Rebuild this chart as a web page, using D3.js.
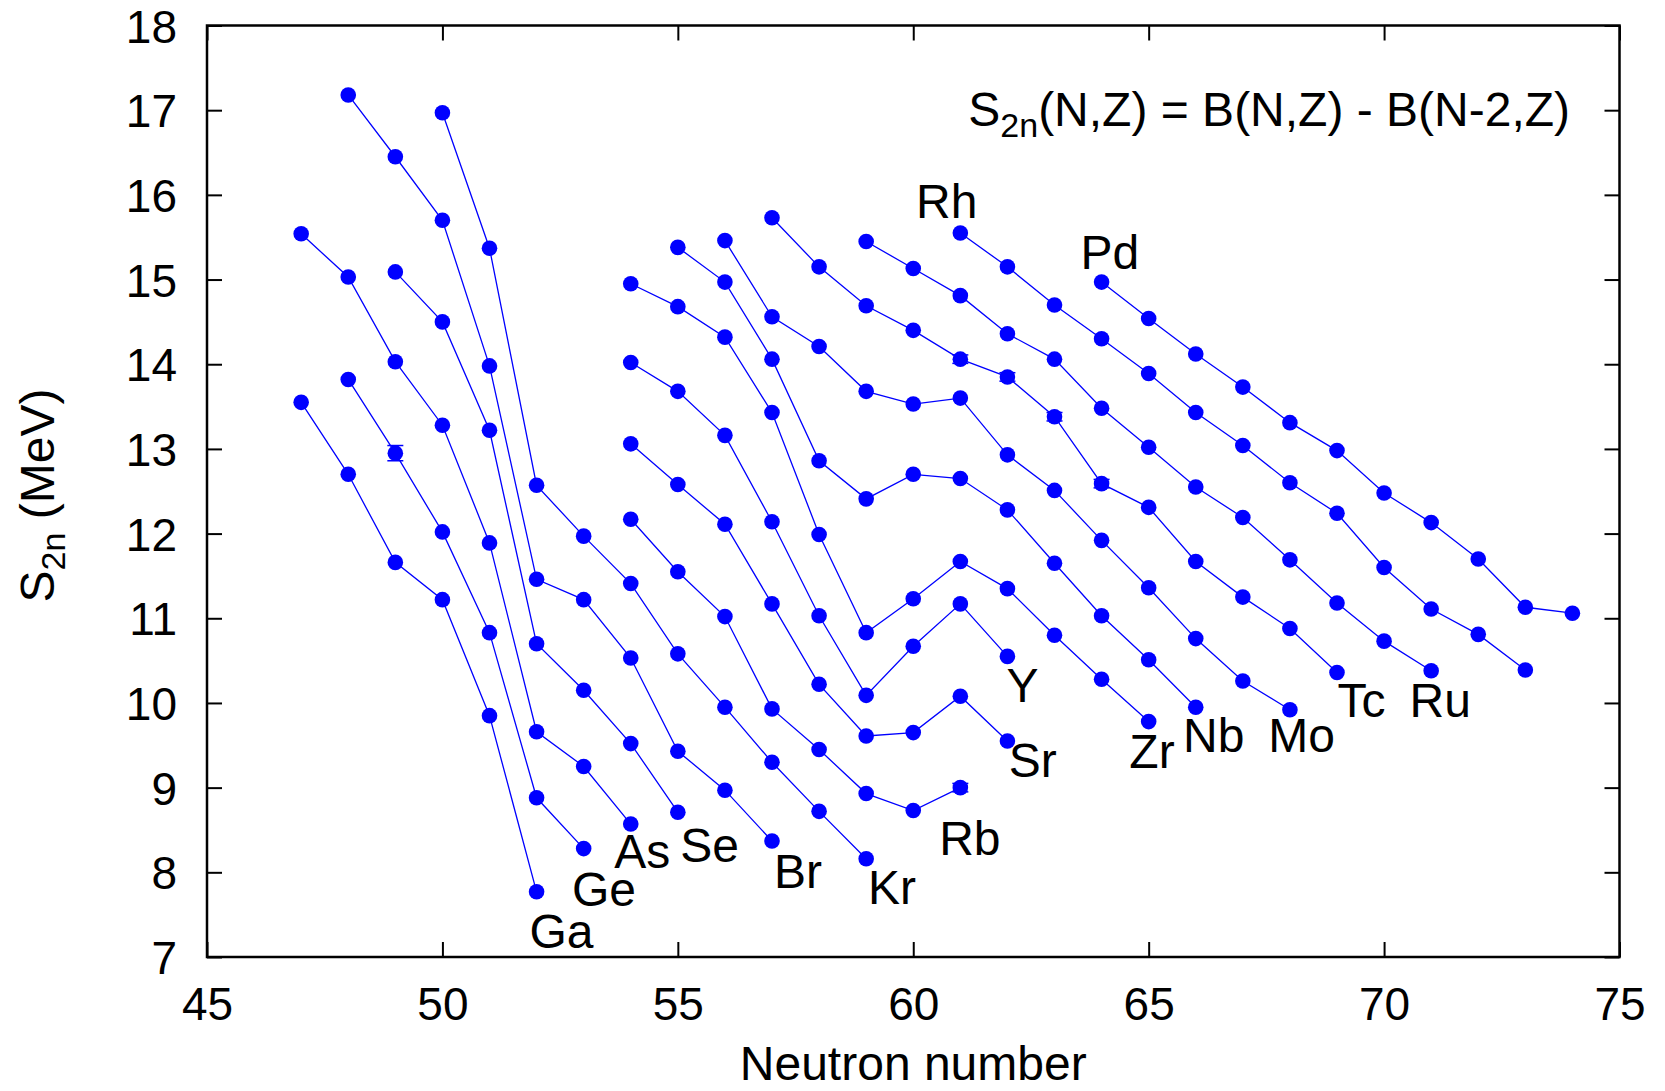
<!DOCTYPE html>
<html lang="en">
<head>
  <meta charset="UTF-8">
  <title>S2n vs neutron number</title>
  <script src="https://d3js.org/d3.v7.min.js"></script>
  <style>
    body, html {
      margin: 0;
      background-color: #ffffff;
    }
    svg text {
      font-family: 'Liberation Sans', Arial, sans-serif;
      fill: #000;
    }
  </style>
</head>
<body>
<svg id="chart" width="1665" height="1091"></svg>

<script>
  // element names, first neutron number of each chain, and S2n values (MeV)
  const elementNames = ["Ga", "Ge", "As", "Se", "Br", "Kr", "Rb", "Sr", "Y", "Zr", "Nb", "Mo", "Tc", "Ru", "Rh", "Pd"];
  const firstN = [47, 48, 47, 49, 48, 50, 54, 54, 54, 54, 55, 56, 57, 59, 61, 64];

  const s2nGa = [13.55, 12.70, 11.66, 11.22, 9.85, 7.77];
  const s2nGe = [13.82, 12.95, 12.02, 10.83, 8.88, 8.28];
  const s2nAs = [15.54, 15.03, 14.03, 13.28, 11.89, 9.66, 9.25, 8.57];
  const s2nSe = [15.09, 14.50, 13.22, 10.70, 10.15, 9.52, 8.71];
  const s2nBr = [17.18, 16.45, 15.70, 13.98, 11.46, 11.22, 10.53, 9.43, 8.97, 8.37];
  const s2nKr = [16.97, 15.37, 12.57, 11.97, 11.41, 10.58, 9.95, 9.30, 8.72, 8.16];
  const s2nRb = [12.17, 11.55, 11.02, 9.93, 9.45, 8.93, 8.73, 9.00];
  const s2nSr = [13.06, 12.58, 12.11, 11.17, 10.22, 9.61, 9.65, 10.08, 9.55];
  const s2nY  = [14.02, 13.68, 13.16, 12.14, 11.03, 10.09, 10.67, 11.17, 10.55];
  const s2nZr = [14.95, 14.68, 14.32, 13.43, 11.99, 10.83, 11.23, 11.67, 11.35, 10.80, 10.28, 9.78];
  const s2nNb = [15.38, 14.97, 14.06, 12.86, 12.41, 12.70, 12.65, 12.28, 11.65, 11.03, 10.51, 9.95];
  const s2nMo = [15.46, 14.56, 14.21, 13.68, 13.53, 13.60, 12.93, 12.51, 11.92, 11.36, 10.76, 10.26, 9.92];
  const s2nTc = [15.73, 15.15, 14.69, 14.40, 14.06, 13.85, 13.38, 12.59, 12.31, 11.67, 11.25, 10.88, 10.36];
  const s2nRu = [15.45, 15.13, 14.81, 14.36, 14.06, 13.48, 13.02, 12.55, 12.19, 11.69, 11.18, 10.73, 10.38];
  const s2nRh = [15.55, 15.15, 14.70, 14.30, 13.89, 13.43, 13.04, 12.60, 12.24, 11.60, 11.11, 10.81, 10.39];
  const s2nPd = [14.97, 14.54, 14.12, 13.73, 13.31, 12.98, 12.48, 12.13, 11.70, 11.13, 11.06];

  const allS2n = [s2nGa, s2nGe, s2nAs, s2nSe, s2nBr, s2nKr, s2nRb, s2nSr, s2nY, s2nZr, s2nNb, s2nMo, s2nTc, s2nRu, s2nRh, s2nPd];

  // points with visible error bars: element, N, uncertainty (MeV)
  const errorPoints = [["Ge", 49, 0.09], ["Rb", 61, 0.05], ["Tc", 61, 0.05], ["Tc", 62, 0.05], ["Tc", 63, 0.05], ["Tc", 64, 0.05]];

  // where each element name sits, in data units (N, S2n)
  const labelN = [51.85, 52.75, 53.65, 55.05, 57.04, 59.04, 60.55, 62.03, 61.98, 64.59, 65.73, 67.54, 69.01, 70.54, 60.06, 63.55];
  const labelS = [7.11, 7.60, 8.05, 8.12, 7.82, 7.62, 8.21, 9.12, 10.01, 9.23, 9.42, 9.42, 9.83, 9.83, 15.73, 15.13];

  const xTicks = [45, 50, 55, 60, 65, 70, 75];
  const yTicks = [7, 8, 9, 10, 11, 12, 13, 14, 15, 16, 17, 18];

  const svg = d3.select("#chart");
  const margin = { top: 25.5, right: 45.5, bottom: 134, left: 207 };
  const width = +svg.attr("width") - margin.left - margin.right;
  const height = +svg.attr("height") - margin.top - margin.bottom;
  const tickFont = 46;
  const labelFont = 48;
  const blue = "#0000ff";

  const x = d3.scaleLinear().domain([45, 75]).range([0, width]);
  const y = d3.scaleLinear().domain([7, 18]).range([height, 0]);

  const g = svg.append("g").attr("transform", `translate(${margin.left},${margin.top})`);

  const series = elementNames.map((el, i) => ({
    el: el,
    points: allS2n[i].map((v, j) => ({ n: firstN[i] + j, v: v }))
  }));

  // ticks on all four sides, pointing inward (gnuplot style)
  const tickLen = 15;
  const styleAxis = sel => {
    sel.select(".domain").remove();
    sel.selectAll(".tick line").attr("stroke", "#000").attr("stroke-width", 2);
  };

  g.append("g")
    .attr("transform", `translate(0,${height})`)
    .call(d3.axisBottom(x).tickValues(xTicks).tickSize(-tickLen).tickPadding(30).tickFormat(d3.format("d")))
    .call(styleAxis)
    .selectAll("text").style("font-size", tickFont + "px");

  g.append("g")
    .call(d3.axisTop(x).tickValues(xTicks).tickSize(-tickLen).tickFormat(""))
    .call(styleAxis);

  g.append("g")
    .call(d3.axisLeft(y).tickValues(yTicks).tickSize(-tickLen).tickPadding(30).tickFormat(d3.format("d")))
    .call(styleAxis)
    .selectAll("text").style("font-size", tickFont + "px").attr("dy", "0.36em");

  g.append("g")
    .attr("transform", `translate(${width},0)`)
    .call(d3.axisRight(y).tickValues(yTicks).tickSize(-tickLen).tickFormat(""))
    .call(styleAxis);

  g.append("rect")
    .attr("width", width)
    .attr("height", height)
    .attr("fill", "none")
    .attr("stroke", "#000")
    .attr("stroke-width", 2.5);

  // connecting lines
  const line = d3.line().x(d => x(d.n)).y(d => y(d.v));

  g.selectAll(".chain")
    .data(series)
    .enter().append("path")
    .attr("class", "chain")
    .attr("fill", "none")
    .attr("stroke", blue)
    .attr("stroke-width", 1.3)
    .attr("d", d => line(d.points));

  // error bars
  const errs = errorPoints.map(([el, n, e]) => {
    const s = series.find(d => d.el === el);
    const p = s.points.find(d => d.n === n);
    return { n: n, v: p.v, e: e };
  });

  const capW = 8;
  const eb = g.selectAll(".err").data(errs).enter().append("g").attr("class", "err")
    .attr("stroke", blue).attr("stroke-width", 1.5);
  eb.append("line")
    .attr("x1", d => x(d.n)).attr("x2", d => x(d.n))
    .attr("y1", d => y(d.v - d.e)).attr("y2", d => y(d.v + d.e));
  eb.append("line")
    .attr("x1", d => x(d.n) - capW).attr("x2", d => x(d.n) + capW)
    .attr("y1", d => y(d.v - d.e)).attr("y2", d => y(d.v - d.e));
  eb.append("line")
    .attr("x1", d => x(d.n) - capW).attr("x2", d => x(d.n) + capW)
    .attr("y1", d => y(d.v + d.e)).attr("y2", d => y(d.v + d.e));

  // markers
  g.selectAll(".dot")
    .data(series.flatMap(s => s.points))
    .enter().append("circle")
    .attr("class", "dot")
    .attr("cx", d => x(d.n))
    .attr("cy", d => y(d.v))
    .attr("r", 7.8)
    .attr("fill", blue);

  // element labels
  g.selectAll(".elabel")
    .data(elementNames)
    .enter().append("text")
    .attr("class", "elabel")
    .attr("x", (d, i) => x(labelN[i]))
    .attr("y", (d, i) => y(labelS[i]))
    .style("font-size", labelFont + "px")
    .text(d => d);

  // formula
  const formula = g.append("text")
    .attr("x", x(73.95))
    .attr("y", y(16.81))
    .attr("text-anchor", "end")
    .style("font-size", labelFont + "px");
  formula.append("tspan").text("S");
  formula.append("tspan").attr("dy", 11).style("font-size", "34px").text("2n");
  formula.append("tspan").attr("dy", -11).text("(N,Z) = B(N,Z) - B(N-2,Z)");

  // axis titles
  svg.append("text")
    .attr("x", margin.left + x(60))
    .attr("y", 1080)
    .attr("text-anchor", "middle")
    .style("font-size", labelFont + "px")
    .text("Neutron number");

  const yTitle = svg.append("text")
    .attr("transform", `translate(54,${margin.top + y(12.45)}) rotate(-90)`)
    .attr("text-anchor", "middle")
    .style("font-size", labelFont + "px");
  yTitle.append("tspan").text("S");
  yTitle.append("tspan").attr("dy", 11).style("font-size", "34px").text("2n");
  yTitle.append("tspan").attr("dy", -11).text(" (MeV)");
</script>
</body>
</html>
